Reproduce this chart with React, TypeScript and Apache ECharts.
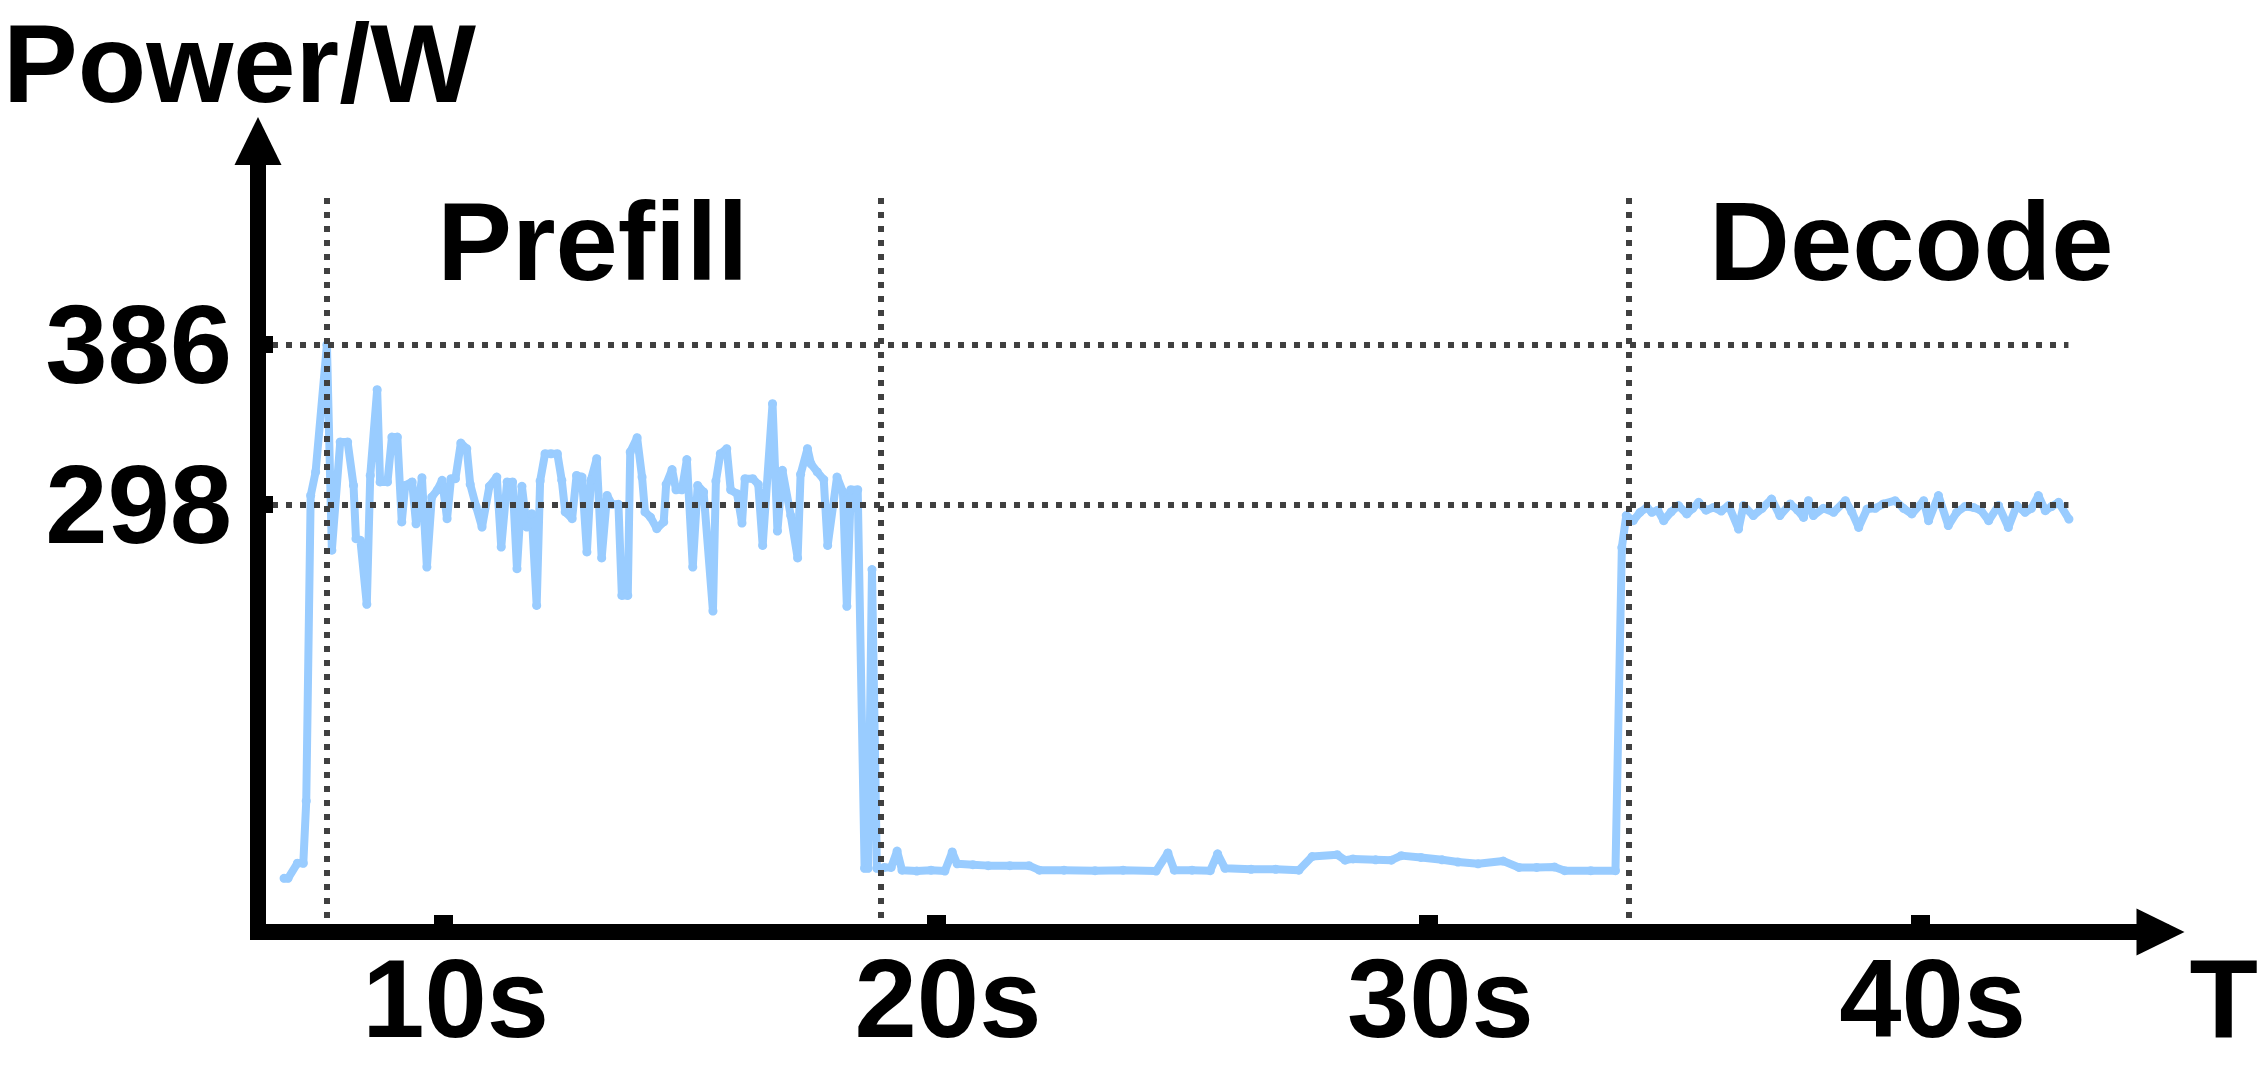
import React, { useEffect, useRef } from 'react';
import * as echarts from 'echarts';

// ---- data (time in seconds, power in watts) ----
const timeS: number[] = [
  6.76, 6.84, 7.03, 7.15, 7.21, 7.30, 7.40, 7.63, 7.73, 7.90, 8.05, 8.17, 8.22, 8.31, 8.44, 8.51,
  8.65, 8.71, 8.86, 8.95, 9.06, 9.15, 9.22, 9.36, 9.44, 9.56, 9.66, 9.76, 9.87, 9.97, 10.07, 10.15,
  10.24, 10.35, 10.47, 10.54, 10.66, 10.78, 10.93, 11.08, 11.17, 11.29, 11.40, 11.49, 11.59, 11.69,
  11.79, 11.89, 11.96, 12.06, 12.18, 12.31, 12.40, 12.47, 12.61, 12.70, 12.81, 12.91, 12.99, 13.11,
  13.21, 13.32, 13.42, 13.55, 13.62, 13.74, 13.79, 13.93, 14.03, 14.09, 14.20, 14.33, 14.47, 14.52,
  14.64, 14.72, 14.84, 14.94, 15.06, 15.16, 15.28, 15.47, 15.53, 15.62, 15.75, 15.83, 15.96, 16.06,
  16.12, 16.28, 16.39, 16.48, 16.68, 16.78, 16.88, 17.05, 17.19, 17.25, 17.39, 17.46, 17.59, 17.72,
  17.80, 17.99, 18.11, 18.19, 18.27, 18.41, 18.55, 18.62, 18.70, 18.80,
  18.95, 19.09, 19.21, 19.31, 19.61, 19.90, 20.18, 20.33, 20.43, 20.75, 21.06, 21.50, 21.89, 22.10,
  22.60, 23.23, 23.80, 24.47, 24.71, 24.84, 25.20, 25.57, 25.72, 25.87, 26.40, 26.90, 27.37, 27.64,
  28.15, 28.31, 28.47, 28.93, 29.25, 29.45, 29.85, 30.28, 30.60, 31.01, 31.52, 31.84, 32.20, 32.56,
  32.77, 33.30, 33.80,
  33.93, 34.02, 34.16, 34.30, 34.44, 34.54, 34.66, 34.78, 34.93, 35.08, 35.25, 35.37, 35.49, 35.64,
  35.79, 35.95, 36.10, 36.30, 36.40, 36.60, 36.78, 36.97, 37.14, 37.35, 37.50, 37.62, 37.72, 37.82,
  38.02, 38.23, 38.47, 38.60, 38.74, 38.91, 39.08, 39.24, 39.48, 39.65, 39.82, 40.06, 40.16, 40.36,
  40.56, 40.73, 40.90, 41.07, 41.22, 41.38, 41.58, 41.78, 41.95, 42.12, 42.25, 42.39, 42.53, 42.66,
  42.80, 43.01,
];

const powerW: number[] = [
  92.5, 92.5, 100.8, 100.8, 135, 303, 316, 386, 273, 332.5, 332.5, 308.6, 279.3, 278.4, 243.2, 314.1,
  361.2, 310.5, 310.5, 335.2, 335.2, 288.5, 308.6, 310.5, 287.5, 312.8, 263.7, 302.2, 306, 311.4, 290.3, 312.3,
  312.3, 331.9, 328.8, 309.2, 297, 285.7, 308.1, 313.2, 274.7, 310.5, 310.5, 262.8, 308.1, 285.7,
  293, 242.6, 311, 326, 326, 326, 311.4, 294, 290.3, 314.1, 313.2, 272, 311.4, 323.3,
  268.7, 303.1, 298.2, 298.2, 248.1, 248.1, 327, 334.8, 313.2, 294, 291.2, 284.8, 288.5, 309.2,
  317.3, 306.2, 306.2, 322.8, 263.7, 308.6, 305, 239.5, 311, 326, 328.8, 306.2, 304, 287.9,
  312.3, 312.3, 309.2, 275.6, 353.5, 283.5, 316.9, 292, 268.7, 314.7, 328.8, 320.5, 316, 311.8,
  275.6, 313.2, 305, 242.1, 306.2, 306.2, 98, 98, 262.3, 98,
  98.5, 98.5, 107.5, 97, 96.5, 97, 96.5, 107, 100.5, 100, 99.5, 99.5, 99.5, 97,
  97, 96.7, 97, 96.5, 106.5, 97, 97, 96.7, 106, 98, 97.5, 97.5, 97, 104.5,
  105.5, 102.5, 103.2, 102.7, 102.5, 105, 104, 102.7, 101.5, 100.5, 102, 98.5, 98.5, 98.8,
  96.7, 96.7, 96.7,
  274.5, 292, 289.2, 293.8, 296.5, 293.8, 295, 289.2, 294, 297.5, 292.9, 296, 299.3, 295,
  296.5, 294.5, 297.5, 284.6, 297.5, 292, 296, 301.1, 292, 298.4, 295, 291, 300.2, 292,
  296, 293.8, 300.2, 294, 285.5, 295.6, 296, 298.4, 300.2, 296, 292.9, 300.2, 289.2, 303,
  286.5, 293.8, 297, 296.5, 295, 289.2, 297.5, 285.5, 297.5, 293.8, 296, 303, 294.7, 297,
  299.3, 290.1,
];

const xTickValues = [10, 20, 30, 40];
const yTickValues = [298, 386];
const referencePowers = [386, 298];
const phaseBoundaries = [7.63, 18.87, 34.07];
const phaseNames = ['Prefill', 'Decode'];

const X_MIN = 6.23;
const X_MAX = 44.87;
const Y_MIN = 63;
const Y_MAX = 498;
const REF_END = 43.0;
const BOUND_TOP = 466.7;
const LABEL_POS: [number, number][] = [[13.03, 442.9], [39.81, 442.9]];

const FONT = "'Liberation Sans', Arial, Helvetica, sans-serif";
const FS = 112;

export default function App() {
  const ref = useRef<HTMLDivElement>(null);
  useEffect(() => {
    if (!ref.current) return;
    const chart = echarts.init(ref.current, undefined, { renderer: 'svg' });
    const textStyle = { fontSize: FS, fontWeight: 'bold' as const, color: '#000', fontFamily: FONT };
    const seriesData = timeS.map((t, i) => [t, powerW[i]]);
    const markLines: any[] = [];
    referencePowers.forEach((p) => {
      markLines.push([{ coord: [X_MIN, p] }, { coord: [REF_END, p] }]);
    });
    phaseBoundaries.forEach((t) => {
      markLines.push([{ coord: [t, Y_MIN] }, { coord: [t, BOUND_TOP] }]);
    });
    chart.setOption({
      animation: false,
      backgroundColor: '#ffffff',
      grid: { left: 258, right: 103.5, top: 141, bottom: 139, containLabel: false },
      xAxis: {
        type: 'value',
        min: X_MIN,
        max: X_MAX,
        z: 10,
        name: 'T',
        nameLocation: 'end',
        nameGap: 29,
        nameTextStyle: { ...textStyle, align: 'left', verticalAlign: 'top', padding: [10, 0, 0, 0] },
        axisLine: {
          show: true,
          symbol: ['none', 'triangle'],
          symbolSize: [47, 48],
          lineStyle: { color: '#000', width: 16, cap: 'square' },
        },
        axisTick: {
          show: true,
          inside: true,
          length: 17,
          customValues: xTickValues,
          lineStyle: { color: '#000', width: 19 },
        },
        axisLabel: {
          show: true,
          customValues: xTickValues,
          formatter: (v: number) => `${v}s`,
          margin: 10,
          padding: [0, 0, 0, 24],
          ...textStyle,
        },
        splitLine: { show: false },
      },
      yAxis: {
        type: 'value',
        min: Y_MIN,
        max: Y_MAX,
        z: 10,
        name: 'Power/W',
        nameLocation: 'end',
        nameGap: 28,
        nameTextStyle: {
          ...textStyle,
          lineHeight: 100,
          align: 'center',
          verticalAlign: 'bottom',
          padding: [0, 37, 0, 0],
        },
        axisLine: {
          show: true,
          symbol: ['none', 'triangle'],
          symbolSize: [47, 48],
          lineStyle: { color: '#000', width: 16, cap: 'square' },
        },
        axisTick: {
          show: true,
          inside: true,
          length: 15,
          customValues: yTickValues,
          lineStyle: { color: '#000', width: 17 },
        },
        axisLabel: {
          show: true,
          customValues: yTickValues,
          margin: 26,
          ...textStyle,
        },
        splitLine: { show: false },
      },
      series: [
        {
          type: 'line',
          data: seriesData,
          showSymbol: true,
          showAllSymbol: true,
          symbol: 'circle',
          symbolSize: 9,
          silent: true,
          lineStyle: { color: '#99CCFF', width: 8, cap: 'round', join: 'round' },
          itemStyle: { color: '#99CCFF' },
          markLine: {
            silent: true,
            symbol: ['none', 'none'],
            label: { show: false },
            lineStyle: { color: '#404040', width: 6, type: [6, 8] },
            emphasis: { disabled: true },
            data: markLines,
          },
          markPoint: {
            silent: true,
            symbol: 'circle',
            symbolSize: 0,
            itemStyle: { color: 'transparent' },
            label: { show: true, position: 'inside', formatter: '{b}', ...textStyle },
            data: phaseNames.map((n, i) => ({ name: n, coord: LABEL_POS[i] })),
          },
        },
      ],
    });
    return () => chart.dispose();
  }, []);
  return (
    <div
      ref={ref}
      style={{ position: 'absolute', left: 0, top: 0, width: 2264, height: 1071, background: '#fff' }}
    />
  );
}
